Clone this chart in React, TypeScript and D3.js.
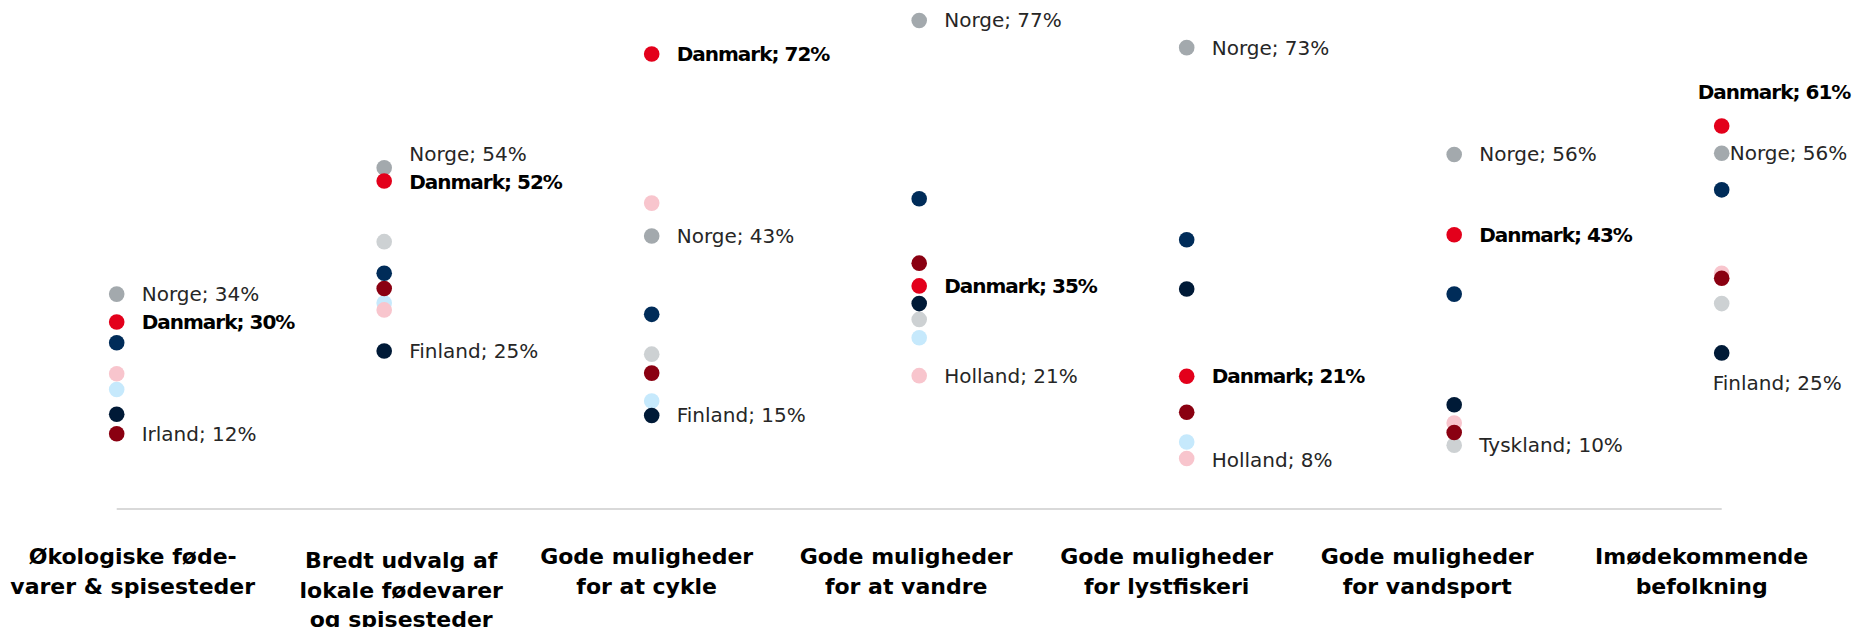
import React from "react";
import * as d3 from "d3";

// ---------- data ----------
const categories: string[][] = [
  ["Økologiske føde-", "varer & spisesteder"],
  ["Bredt udvalg af", "lokale fødevarer", "og spisesteder"],
  ["Gode muligheder", "for at cykle"],
  ["Gode muligheder", "for at vandre"],
  ["Gode muligheder", "for lystfiskeri"],
  ["Gode muligheder", "for vandsport"],
  ["Imødekommende", "befolkning"],
];

// draw order = array order (later drawn on top)
const seriesNames = ["Tyskland", "Skotland", "Holland", "Irland", "Norge", "Danmark", "Sverige", "Finland"];
const tyskland = [null, 42.3, 24.5, 30.0, null, 10.1, 32.5];
const skotland = [18.9, 32.6, 17.1, 27.1, 10.6, null, null];
const holland = [21.4, 31.5, 48.4, 21.1, 8.0, 13.6, 37.3];
const irland = [11.9, 34.9, 21.5, 38.9, 15.3, 12.1, 36.5];
const norge = [34.0, 54.0, 43.2, 77.3, 73.0, 56.1, 56.3];
const danmark = [29.6, 51.9, 72.0, 35.3, 21.0, 43.4, 60.6];
const sverige = [26.3, 37.3, 30.8, 49.1, 42.6, 34.0, 50.5];
const finland = [15.0, 25.0, 14.8, 32.5, 34.8, 16.5, 24.7];
const seriesValues: (number | null)[][] = [tyskland, skotland, holland, irland, norge, danmark, sverige, finland];

// labelled points: [series, category]
const labelled: [string, number][] = [
  ["Norge", 0], ["Danmark", 0], ["Irland", 0],
  ["Norge", 1], ["Danmark", 1], ["Finland", 1],
  ["Danmark", 2], ["Norge", 2], ["Finland", 2],
  ["Norge", 3], ["Danmark", 3], ["Holland", 3],
  ["Norge", 4], ["Danmark", 4], ["Holland", 4],
  ["Norge", 5], ["Danmark", 5], ["Tyskland", 5],
  ["Danmark", 6], ["Norge", 6], ["Finland", 6],
];

// ---------- styles / layout ----------
const colors: Record<string, string> = {
  Tyskland: "#cdd1d3",
  Skotland: "#c6e9fc",
  Holland: "#f8c5cd",
  Irland: "#8a0011",
  Norge: "#a3a9ad",
  Danmark: "#e3001b",
  Sverige: "#002c59",
  Finland: "#001a37",
};
const W = 1853;
const H = 627;
const FONT = "'DejaVu Sans', sans-serif";
// label placement tweaks (dx, dy from dot centre to text start / baseline)
const labelPlacement: Record<string, [number, number]> = {
  "Norge-1": [25, -7],
  "Danmark-1": [25, 8],
  "Danmark-6": [-24, -27],
  "Norge-6": [8, 7],
  "Finland-6": [-9, 37],
  "Holland-4": [25, 9],
};
const catLabelDx = [16, 17, -5, -13, -20, -27, -20];

export default function App() {
  const x = d3.scalePoint<number>().domain(d3.range(categories.length)).range([116.7, 1721.7]);
  const y = d3.scaleLinear().domain([0, 80]).range([509, 3.4]);

  return (
    <div style={{ position: "absolute", left: 0, top: 0 }}>
      <svg width={W} height={H} style={{ display: "block", background: "#fff" }}>
        <line x1={x(0)} x2={x(categories.length - 1)} y1={y(0)} y2={y(0)} stroke="#d9d9d9" strokeWidth={2} />
        {seriesNames.map((name, si) => (
          <g key={name}>
            {seriesValues[si].map((v, ci) =>
              v == null ? null : <circle key={ci} cx={x(ci)} cy={y(v)} r={7.8} fill={colors[name]} />
            )}
          </g>
        ))}
        {labelled.map(([name, ci]) => {
          const si = seriesNames.indexOf(name);
          const v = seriesValues[si][ci] as number;
          const [dx, dy] = labelPlacement[`${name}-${ci}`] || [25, 7];
          const bold = name === "Danmark";
          return (
            <text
              key={`${name}-${ci}`}
              x={(x(ci) as number) + dx}
              y={y(v) + dy}
              fontFamily={FONT}
              fontSize={20}
              fontWeight={bold ? 700 : 400}
              letterSpacing={bold ? -1 : 0}
              fill={bold ? "#000" : "#262626"}
            >
              {`${name}; ${Math.round(v)}%`}
            </text>
          );
        })}
        {categories.map((lines, ci) => {
          const base = lines.length > 2 ? 568 : 564;
          return (
            <text
              key={ci}
              x={(x(ci) as number) + catLabelDx[ci]}
              textAnchor="middle"
              fontFamily={FONT}
              fontSize={22}
              fontWeight={700}
              fill="#000"
            >
              {lines.map((l, li) => (
                <tspan key={li} x={(x(ci) as number) + catLabelDx[ci]} y={base + li * 29.5}>
                  {l}
                </tspan>
              ))}
            </text>
          );
        })}
      </svg>
    </div>
  );
}
